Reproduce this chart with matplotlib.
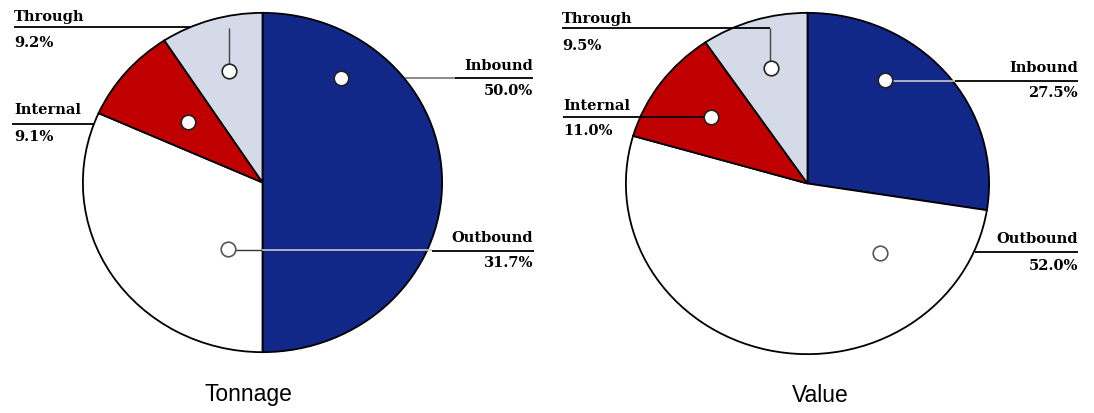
import matplotlib
matplotlib.use("Agg")
import matplotlib.pyplot as plt
from matplotlib.lines import Line2D

# ---------------- data ----------------
categories = ["Inbound", "Outbound", "Internal", "Through"]
tonnage_pct = [50.0, 31.7, 9.1, 9.2]
value_pct = [27.5, 52.0, 11.0, 9.5]
chart_titles = ["Tonnage", "Value"]

# ---------------- style ----------------
slice_colors = ["#112888", "#ffffff", "#c00000", "#d5dae8"]
W, H = 1094, 413
fig = plt.figure(figsize=(W / 100, H / 100), dpi=100)

def fig_rect(x0, y0, x1, y1):
    return [x0 / W, 1 - y1 / H, (x1 - x0) / W, (y1 - y0) / H]

# overlay axes in pixel coordinates (behind and in front of pies)
def overlay(z):
    a = fig.add_axes([0, 0, 1, 1], zorder=z)
    a.set_xlim(0, W)
    a.set_ylim(H, 0)
    a.axis("off")
    a.patch.set_alpha(0)
    return a

bg = overlay(0)
fg = overlay(2)

pie_boxes = [(82, 12, 443, 353), (625, 12, 990, 355)]
for box, vals in zip(pie_boxes, [tonnage_pct, value_pct]):
    ax = fig.add_axes(fig_rect(*box), zorder=1)
    ax.patch.set_alpha(0)
    ax.pie(vals, colors=slice_colors, startangle=90, counterclock=False,
           wedgeprops=dict(edgecolor="black", linewidth=1.3))
    ax.set_xlim(-1.005, 1.005)
    ax.set_ylim(-1.005, 1.005)
    ax.set_aspect("auto")
    ax.axis("off")

def line(a, xs, ys, color="black", lw=1.3):
    a.add_line(Line2D(xs, ys, color=color, lw=lw, solid_capstyle="butt"))

# ---- leader lines: Tonnage ----
line(bg, [14, 229], [27, 27])
line(fg, [229, 229], [28, 64], color="#444444", lw=1.0)
line(bg, [12, 188], [124, 124])
line(bg, [341, 455], [78, 78], color="#777777", lw=1.2)
line(bg, [455, 533], [78, 78])
line(fg, [228, 262], [250, 250], color="#333333", lw=1.0)
line(fg, [262, 432], [250, 250], color="#c8c8c8", lw=1.2)
line(bg, [432, 534], [251, 251])

# ---- leader lines: Value ----
line(fg, [562, 770], [28, 28])
line(fg, [770, 770], [28, 61], color="#444444", lw=1.0)
line(fg, [563, 711], [117, 117])
line(fg, [885, 955], [81, 81], color="#c8c8c8", lw=1.2)
line(bg, [955, 1078], [81, 81])
line(bg, [975, 1078], [252, 252])

# ---- marker circles ----
markers = [
    (341, 78, "#222222"), (228, 249, "#555555"), (188, 122, "#222222"), (229, 71, "#222222"),
    (885, 80, "#222222"), (880, 253, "#555555"), (711, 117, "#222222"), (771, 68, "#222222"),
]
for mx, my, ec in markers:
    fg.plot(mx, my, marker="o", ms=10.5, mfc="white", mec=ec, mew=1.2)

# ---- labels ----
lab_font = dict(family="DejaVu Serif", fontweight="bold", fontsize=10.5, color="black")
label_pos = [
    # (category index, chart index, x, y_name, y_pct, ha)
    (3, 0, 14, 17, 43, "left"),
    (2, 0, 14, 110, 137, "left"),
    (0, 0, 533, 66, 91, "right"),
    (1, 0, 533, 238, 263, "right"),
    (3, 1, 562, 19, 46, "left"),
    (2, 1, 563, 106, 131, "left"),
    (0, 1, 1078, 68, 93, "right"),
    (1, 1, 1078, 239, 266, "right"),
]
data_sets = [tonnage_pct, value_pct]
for ci, chi, x, yn, yp, ha in label_pos:
    fg.text(x, yn, categories[ci], ha=ha, va="center", **lab_font)
    fg.text(x, yp, f"{data_sets[chi][ci]:.1f}%", ha=ha, va="center", **lab_font)

# ---- titles ----
for t, cx in zip(chart_titles, [248, 820]):
    fg.text(cx, 395, t, ha="center", va="center", family="Liberation Sans",
            fontsize=16.5, color="black")

fig.savefig("out.png", dpi=100)
